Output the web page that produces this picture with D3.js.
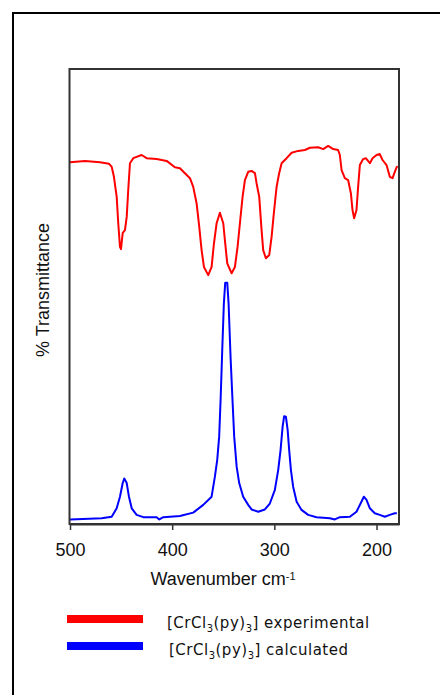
<!DOCTYPE html>
<html>
<head>
<meta charset="utf-8">
<script src="https://cdn.jsdelivr.net/npm/d3@7"></script>
<style>
  html, body { margin: 0; padding: 0; background: #fff; }
  svg { display: block; }
</style>
</head>
<body>
<svg id="chart" width="440" height="695"></svg>
<script>
// experimental spectrum: wavenumber (cm-1) and % transmittance
const expWave = [500, 485.3, 470.7, 461.9, 459.2, 457.0, 454.3, 452.8, 451.1, 450.1, 448.4, 446.2, 444.5, 443.0, 441.3, 438.1, 429.9, 425.0, 415.2, 405.4, 397.3, 392.4, 387.5, 382.6, 379.4, 376.1, 373.5, 371.2, 368.9, 364.7, 361.4, 359.1, 356.5, 353.3, 350.0, 348.4, 346.1, 341.8, 338.6, 336.0, 333.7, 331.1, 328.8, 325.6, 322.3, 319.0, 317.4, 314.8, 312.5, 310.9, 308.3, 305.0, 302.7, 300.5, 297.8, 295.3, 292.9, 288.0, 283.1, 276.7, 270.1, 265.2, 257.1, 252.2, 247.3, 242.4, 237.6, 235.9, 234.2, 231.0, 227.8, 225.1, 223.5, 221.9, 219.6, 218.0, 216.3, 213.1, 210.5, 206.5, 203.9, 200.0, 196.8, 194.1, 190.2, 187.0, 184.3, 182.1, 180.4, 179.2];
const expTrans = [79.5, 79.8, 79.5, 79.2, 78.5, 76.3, 71.9, 66.2, 60.9, 60.4, 64.0, 64.6, 67.5, 73.4, 79.3, 80.4, 81.1, 80.4, 80.2, 79.8, 78.4, 78.2, 77.1, 76.0, 74.1, 70.5, 65.3, 60.2, 56.5, 54.7, 56.5, 61.7, 66.1, 68.4, 66.1, 62.4, 57.3, 55.1, 56.5, 60.9, 66.1, 71.9, 75.6, 77.4, 77.6, 77.1, 74.9, 71.9, 64.6, 60.2, 58.4, 59.1, 63.1, 68.3, 74.1, 77.1, 79.3, 80.4, 81.6, 82.0, 82.2, 82.7, 82.8, 82.4, 83.1, 82.4, 82.2, 81.1, 77.8, 76.0, 75.6, 72.7, 69.0, 67.2, 69.0, 74.1, 78.9, 80.2, 80.4, 79.3, 80.4, 81.1, 81.3, 80.0, 78.9, 76.3, 76.0, 77.4, 78.4, 78.6];

// calculated spectrum
const calcWave = [500, 469.0, 459.2, 454.3, 451.1, 448.4, 446.9, 444.5, 442.3, 439.6, 434.8, 428.3, 415.2, 412.6, 408.7, 392.4, 379.4, 369.6, 361.4, 358.2, 355.9, 354.0, 352.6, 351.0, 349.4, 348.1, 346.1, 344.8, 342.8, 340.8, 339.3, 336.9, 334.4, 330.5, 325.6, 322.3, 315.8, 309.3, 304.4, 299.5, 296.2, 293.9, 291.9, 290.4, 288.7, 287.0, 285.5, 283.8, 281.6, 278.2, 273.4, 266.9, 258.7, 245.7, 240.8, 235.9, 226.1, 219.6, 215.6, 212.4, 209.8, 206.5, 201.7, 196.8, 191.9, 187.0, 182.1, 180.1];
const calcTrans = [1.0, 1.25, 1.6, 3.45, 6.0, 9.0, 10.0, 9.0, 6.0, 3.45, 2.0, 1.5, 1.5, 1.0, 1.5, 1.75, 2.5, 4.2, 6.0, 10.4, 14.1, 19.2, 27.3, 38.2, 48.5, 53.0, 53.0, 48.5, 36.4, 26.5, 19.2, 12.6, 9.0, 6.0, 4.2, 3.2, 2.7, 3.2, 4.5, 7.5, 11.9, 16.3, 21.4, 23.7, 23.6, 20.7, 16.3, 11.9, 8.2, 4.9, 3.1, 2.0, 1.5, 1.25, 1.0, 1.5, 1.6, 2.7, 4.5, 6.0, 5.3, 3.45, 2.35, 2.0, 1.6, 2.0, 2.35, 2.35];

const xTicks = [500, 400, 300, 200];
const seriesNames = ["experimental", "calculated"];
const seriesColors = ["#ff0000", "#0000ff"];

const svg = d3.select("#chart");
const margin = { top: 69, right: 41, bottom: 171, left: 70 };
const width = 440;
const height = 695;

// outer frame (runs off the right and bottom edges)
svg.append("path")
  .attr("d", `M${width + 5},13H13V${height + 5}`)
  .attr("fill", "none")
  .attr("stroke", "#000")
  .attr("stroke-width", 2);

const x = d3.scaleLinear()
  .domain([500, 178])
  .range([margin.left, width - margin.right]);
const y = d3.scaleLinear()
  .domain([0, 100])
  .range([height - margin.bottom, height - margin.bottom - 455]);

const line = d3.line()
  .x(d => x(d[0]))
  .y(d => y(d[1]));

const series = [
  d3.zip(expWave, expTrans),
  d3.zip(calcWave, calcTrans),
];

svg.append("g")
  .selectAll("path")
  .data(series)
  .enter()
  .append("path")
  .attr("d", line)
  .attr("fill", "none")
  .attr("stroke", (d, i) => seriesColors[i])
  .attr("stroke-width", 2)
  .attr("stroke-linejoin", "round");

// plot box
svg.append("rect")
  .attr("x", x.range()[0] - 0.5)
  .attr("y", y.range()[1])
  .attr("width", x.range()[1] - x.range()[0] + 0.5)
  .attr("height", y.range()[0] - y.range()[1])
  .attr("fill", "none")
  .attr("stroke", "#333")
  .attr("stroke-width", 2);

const xAxis = svg.append("g")
  .attr("transform", `translate(0,${y.range()[0]})`)
  .call(
    d3.axisBottom(x)
      .tickValues(xTicks)
      .tickSize(6)
      .tickSizeOuter(0)
      .tickPadding(13),
  );
xAxis.select(".domain").attr("stroke", "#333").attr("stroke-width", 2);
xAxis.selectAll(".tick line").attr("stroke", "#333").attr("stroke-width", 1.5);
xAxis.selectAll(".tick text")
  .attr("fill", "#111")
  .style("font-family", "'Liberation Sans', Arial, sans-serif")
  .style("font-size", "18px");

// axis titles
const xTitle = svg.append("text")
  .attr("x", 223)
  .attr("y", 585)
  .attr("text-anchor", "middle")
  .attr("fill", "#111")
  .style("font-family", "'Liberation Sans', Arial, sans-serif")
  .style("font-size", "18px")
  .text("Wavenumber cm");
xTitle.append("tspan")
  .attr("dy", "-0.45em")
  .style("font-size", "11px")
  .text("-1");

svg.append("text")
  .attr("transform", "translate(49,290)rotate(-90)")
  .attr("text-anchor", "middle")
  .attr("fill", "#111")
  .style("font-family", "'Liberation Sans', Arial, sans-serif")
  .style("font-size", "18px")
  .text("% Transmittance");

// legend
const legend = svg.append("g")
  .selectAll("g")
  .data(seriesNames)
  .enter()
  .append("g")
  .attr("transform", (d, i) => `translate(67,${619 + i * 27})`);

legend.append("line")
  .attr("x1", 0)
  .attr("x2", 76)
  .attr("stroke", (d, i) => seriesColors[i])
  .attr("stroke-width", 8);

const legendText = legend.append("text")
  .attr("x", (d, i) => 100 + i * 2)
  .attr("y", 9)
  .attr("fill", "#111")
  .style("font-family", "'DejaVu Sans', sans-serif")
  .style("font-size", "15px")
  .style("letter-spacing", "0.5px");
legendText.append("tspan").text("[CrCl");
legendText.append("tspan").attr("dy", 4).style("font-size", "10px").text("3");
legendText.append("tspan").attr("dy", -4).text("(py)");
legendText.append("tspan").attr("dy", 4).style("font-size", "10px").text("3");
legendText.append("tspan").attr("dy", -4).text(d => "] " + d);
</script>
</body>
</html>
